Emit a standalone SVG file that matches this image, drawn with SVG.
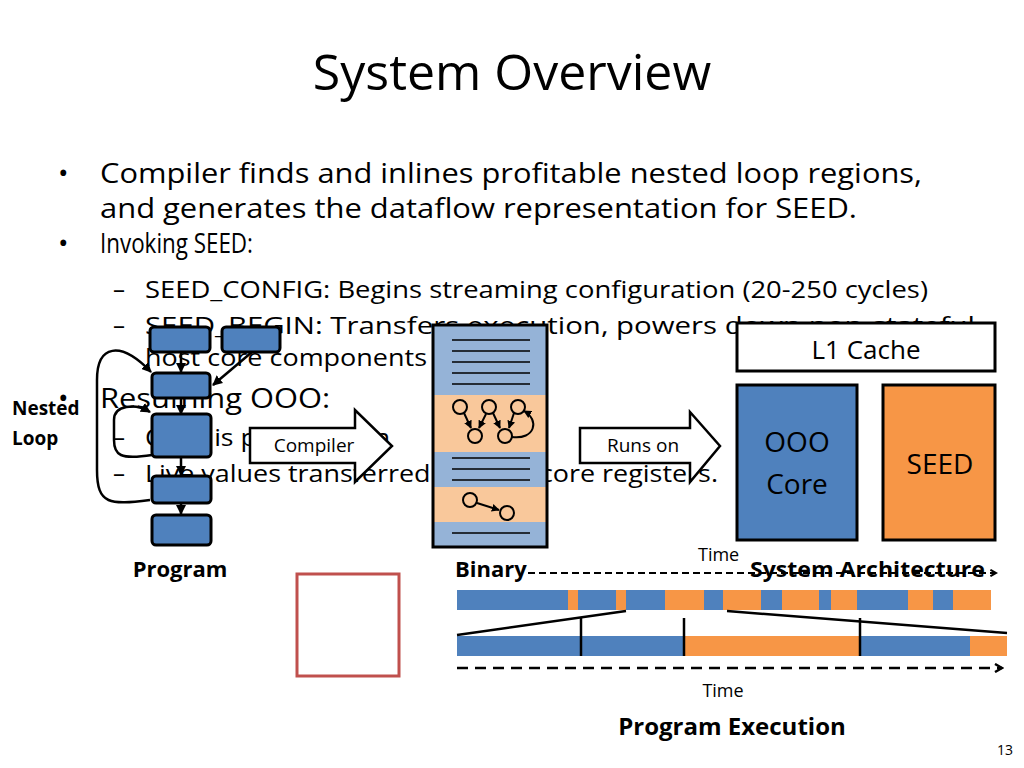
<svg xmlns="http://www.w3.org/2000/svg" width="1024" height="768" viewBox="0 0 1024 768">
<style>
text{font-family:"Open Sans","Liberation Sans",sans-serif;fill:#000}
.b{font-size:28px}.s{font-size:24px}.bd{font-weight:bold}
.nb{fill:#4f81bd;stroke:#000;stroke-width:3}
.ln{stroke:#000;stroke-width:1.5}
.c{fill:none;stroke:#000;stroke-width:2.5}
.cn{stroke:#000;stroke-width:3;fill:none}
</style>
<defs>
<marker id="ah" viewBox="0 0 10 10" refX="9" refY="5" markerWidth="4" markerHeight="4" orient="auto"><path d="M0,0L10,5L0,10z" fill="#000"/></marker>
<marker id="ch" viewBox="0 0 10 10" refX="8" refY="5" markerWidth="4" markerHeight="4" orient="auto"><path d="M1,1L8,5L1,9" fill="none" stroke="#000" stroke-width="2.5"/></marker>
</defs>
<rect width="1024" height="768" fill="#fff"/>
<text x="512" y="90" font-size="50" text-anchor="middle">System Overview</text>
<text x="58" y="183" class="b">•</text>
<text x="100" y="183" class="b" textLength="822" lengthAdjust="spacingAndGlyphs">Compiler finds and inlines profitable nested loop regions,</text>
<text x="100" y="218" class="b" textLength="757" lengthAdjust="spacingAndGlyphs">and generates the dataflow representation for SEED.</text>
<text x="58" y="253" class="b">•</text>
<text x="100" y="253" class="b" textLength="153" lengthAdjust="spacingAndGlyphs">Invoking SEED:</text>
<text x="113" y="298" class="s">–</text>
<text x="145" y="298" class="s" textLength="783" lengthAdjust="spacingAndGlyphs">SEED_CONFIG: Begins streaming configuration (20-250 cycles)</text>
<text x="113" y="334" class="s">–</text>
<text x="145" y="334" class="s" textLength="830" lengthAdjust="spacingAndGlyphs">SEED_BEGIN: Transfers execution, powers down non-stateful</text>
<text x="145" y="366" class="s" textLength="282" lengthAdjust="spacingAndGlyphs">host core components</text>
<text x="58" y="408" class="b">•</text>
<text x="100" y="408" class="b" textLength="230" lengthAdjust="spacingAndGlyphs">Resuming OOO:</text>
<text x="113" y="446" class="s">–</text>
<text x="145" y="446" class="s" textLength="245" lengthAdjust="spacingAndGlyphs">OOO is powered on</text>
<text x="113" y="482" class="s">–</text>
<text x="145" y="482" class="s" textLength="573" lengthAdjust="spacingAndGlyphs">Live values transferred to OOO core registers.</text>

<g id="connectors">
<line x1="181" y1="352" x2="181" y2="372" class="c" marker-end="url(#ah)"/>
<line x1="252" y1="352" x2="213" y2="385" class="c" marker-end="url(#ah)"/>
<line x1="181" y1="398" x2="181" y2="414" class="c" marker-end="url(#ah)"/>
<line x1="181" y1="457" x2="181" y2="475" class="c" marker-end="url(#ah)"/>
<line x1="181" y1="503" x2="181" y2="514" class="c" marker-end="url(#ah)"/>
<path d="M150,500 C110,505 97,505 97,470 L97,380 C97,345 120,340 151,372" class="c" marker-end="url(#ah)"/>
<path d="M152,455 C120,460 114,455 114,440 L114,420 C114,405 135,403 150,412" class="c" marker-end="url(#ah)"/>
</g>
<g id="n1"><rect x="150" y="327" width="60" height="25" rx="4" class="nb"/></g>
<g id="n2"><rect x="222" y="327" width="58" height="25" rx="4" class="nb"/></g>
<g id="n3"><rect x="152" y="373" width="58" height="25" rx="4" class="nb"/></g>
<g id="n4"><rect x="152" y="414" width="59" height="43" rx="4" class="nb"/></g>
<g id="n5"><rect x="152" y="476" width="59" height="27" rx="4" class="nb"/></g>
<g id="n6"><rect x="152" y="515" width="59" height="30" rx="4" class="nb"/></g>
<text x="12" y="415" font-size="19" class="bd">Nested</text>
<text x="12" y="445" font-size="19" class="bd">Loop</text>
<text x="180" y="577" font-size="22" class="bd" text-anchor="middle">Program</text>

<g id="compiler">
<path d="M250,428 H355 V410 L392,446 L355,482 V463 H250 Z" fill="#fff" stroke="#000" stroke-width="2.5"/>
<text x="314" y="452" font-size="19" text-anchor="middle">Compiler</text>
</g>

<g id="binary">
<rect x="433" y="325" width="114" height="70" fill="#95b3d7"/>
<rect x="433" y="395" width="114" height="57" fill="#f9c89b"/>
<rect x="433" y="452" width="114" height="35" fill="#95b3d7"/>
<rect x="433" y="487" width="114" height="35" fill="#f9c89b"/>
<rect x="433" y="522" width="114" height="25" fill="#95b3d7"/>
<g class="ln"><line x1="452" y1="340" x2="530" y2="340"/><line x1="452" y1="351" x2="530" y2="351"/><line x1="452" y1="362" x2="530" y2="362"/><line x1="452" y1="373" x2="530" y2="373"/><line x1="452" y1="384" x2="530" y2="384"/><line x1="452" y1="458" x2="530" y2="458"/><line x1="452" y1="469" x2="530" y2="469"/><line x1="452" y1="480" x2="530" y2="480"/><line x1="452" y1="533" x2="530" y2="533"/></g>
<g fill="none" stroke="#000" stroke-width="2">
<circle cx="460" cy="407" r="7"/><circle cx="489" cy="407" r="7"/><circle cx="518" cy="407" r="7"/><circle cx="475" cy="436" r="7"/><circle cx="505" cy="436" r="7"/><circle cx="470" cy="500" r="7"/><circle cx="507" cy="513" r="7"/>
<line x1="464" y1="413" x2="471" y2="428" marker-end="url(#ah)"/>
<line x1="486" y1="414" x2="479" y2="428" marker-end="url(#ah)"/>
<line x1="493" y1="413" x2="500" y2="428" marker-end="url(#ah)"/>
<line x1="514" y1="413" x2="509" y2="428" marker-end="url(#ah)"/>
<path d="M512,437 C535,440 540,420 524,411" marker-end="url(#ah)"/>
<line x1="477" y1="503" x2="499" y2="510" marker-end="url(#ah)"/>
</g>
<rect x="433" y="325" width="114" height="222" fill="none" stroke="#000" stroke-width="3"/>
</g>
<text x="455" y="577" font-size="22" class="bd">Binary</text>

<g id="runs">
<path d="M580,428 H690 V412 L720,446 L690,482 V463 H580 Z" fill="#fff" stroke="#000" stroke-width="2.5"/>
<text x="643" y="452" font-size="19" text-anchor="middle">Runs on</text>
</g>

<g id="l1"><rect x="737" y="323" width="258" height="48" fill="#fff" stroke="#000" stroke-width="3"/>
<text x="866" y="359" font-size="26" text-anchor="middle">L1 Cache</text></g>
<g id="ooo"><rect x="737" y="385" width="120" height="155" class="nb"/>
<text x="797" y="452" font-size="28" text-anchor="middle">OOO</text>
<text x="797" y="494" font-size="28" text-anchor="middle">Core</text></g>
<g id="seed"><rect x="883" y="385" width="112" height="155" fill="#f79646" stroke="#000" stroke-width="3"/>
<text x="940" y="474" font-size="28" text-anchor="middle">SEED</text></g>

<line x1="528" y1="573" x2="996" y2="573" stroke="#000" stroke-width="2" stroke-dasharray="7,4" marker-end="url(#ch)"/>
<text x="698" y="561" font-size="18">Time</text>
<text x="750" y="577" font-size="22" class="bd" textLength="235" lengthAdjust="spacingAndGlyphs">System Architecture</text>

<rect x="297" y="574" width="102" height="102" fill="none" stroke="#c0504d" stroke-width="3"/>

<g id="timeline1">
<rect x="457" y="590" width="534" height="20" fill="#f79646"/>
<g fill="#4f81bd"><rect x="457" y="590" width="111" height="20"/><rect x="578" y="590" width="38" height="20"/><rect x="626" y="590" width="39" height="20"/><rect x="704" y="590" width="19" height="20"/><rect x="761" y="590" width="21" height="20"/><rect x="819" y="590" width="12" height="20"/><rect x="857" y="590" width="51" height="20"/><rect x="933" y="590" width="20" height="20"/></g>
</g>
<g id="timeline2">
<rect x="457" y="636" width="550" height="20" fill="#f79646"/>
<rect x="457" y="636" width="227" height="20" fill="#4f81bd"/>
<rect x="860" y="636" width="110" height="20" fill="#4f81bd"/>
<g stroke="#000" stroke-width="2.5"><line x1="581" y1="618" x2="581" y2="656"/><line x1="684" y1="618" x2="684" y2="656"/><line x1="860" y1="618" x2="860" y2="656"/>
<line x1="457" y1="635" x2="626" y2="611"/><line x1="727" y1="611" x2="1007" y2="633"/></g>
</g>
<line x1="457" y1="668" x2="1002" y2="668" stroke="#000" stroke-width="2.5" stroke-dasharray="11,7" marker-end="url(#ch)"/>
<text x="723" y="697" font-size="18" text-anchor="middle">Time</text>
<text x="732" y="735" font-size="24" class="bd" text-anchor="middle">Program Execution</text>
<text x="997" y="755" font-size="14">13</text>
</svg>
